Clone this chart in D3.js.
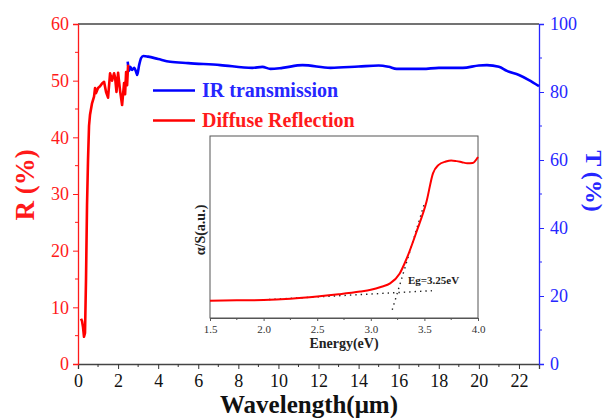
<!DOCTYPE html>
<html>
<head>
<meta charset="utf-8">
<script src="https://cdnjs.cloudflare.com/ajax/libs/d3/7.8.5/d3.min.js"></script>
<style>
  body { margin: 0; background: #fff; }
  svg { font-family: "Liberation Serif", "Times New Roman", serif; }
</style>
</head>
<body>
<svg width="610" height="418"></svg>
<script>
// main chart data
var reflWave = [0.15, 0.2, 0.25, 0.3, 0.35, 0.4, 0.45, 0.5, 0.55, 0.6, 0.7, 0.8, 0.85, 0.9, 1.0, 1.1, 1.2, 1.3, 1.4, 1.5, 1.6, 1.7, 1.8, 1.85, 1.92, 2.0, 2.1, 2.2, 2.3, 2.35, 2.4, 2.45, 2.5];
var reflVal  = [8.0, 7.6, 6.5, 4.8, 5.5, 15, 28, 36, 42, 44, 46, 47.2, 48.7, 47.8, 48.7, 49.0, 49.5, 49.8, 48.0, 47.0, 51.3, 50.0, 51.3, 50.6, 48.0, 51.4, 48.2, 45.7, 49.6, 47.6, 51.5, 49.2, 52.8];

var transWave = [2.48, 2.55, 2.6, 2.7, 2.8, 2.9, 2.95, 3.05, 3.15, 3.26, 3.5, 4.0, 4.6, 5.5, 7.1, 8.7, 9.2, 9.6, 10.2, 11.2, 12.6, 14.0, 15.0, 15.5, 15.9, 17.2, 18.0, 19.2, 20.0, 20.4, 21.0, 21.4, 22.0, 22.5, 23.0];
var transVal  = [88.9, 86.2, 87.4, 86.5, 87.1, 85.9, 85.0, 87.9, 90.0, 90.6, 90.4, 89.7, 88.9, 88.5, 87.9, 87.1, 87.4, 86.8, 87.1, 87.9, 87.1, 87.5, 87.8, 87.4, 86.8, 86.8, 87.1, 87.1, 87.8, 87.9, 87.4, 86.2, 85.0, 83.5, 81.7];

var xTicks = [0, 2, 4, 6, 8, 10, 12, 14, 16, 18, 20, 22];
var rTicks = [0, 10, 20, 30, 40, 50, 60];
var tTicks = [0, 20, 40, 60, 80, 100];

// inset data (Kubelka-Munk)
var energy = [1.5, 1.75, 2.0, 2.25, 2.5, 2.7, 2.9, 3.0, 3.1, 3.18, 3.27, 3.33, 3.43, 3.52, 3.58, 3.63, 3.7, 3.75, 3.8, 3.85, 3.9, 3.95, 4.0];
var kmVal  = [0.095, 0.097, 0.099, 0.106, 0.118, 0.13, 0.145, 0.155, 0.172, 0.19, 0.245, 0.32, 0.48, 0.64, 0.795, 0.84, 0.86, 0.866, 0.862, 0.856, 0.85, 0.852, 0.885];
var baseLine = [[2.0, 0.1], [3.57, 0.15]];
var tangentLine = [[3.2, 0.045], [3.5, 0.63]];
var eTicks = [1.5, 2.0, 2.5, 3.0, 3.5, 4.0];

var svg = d3.select("svg");
var mL = 78, mR = 539, mT = 24, mB = 364;
var red = "#ff1a1a", blue = "#2626ff";

var x = d3.scaleLinear().domain([0, 23]).range([mL, mR]);
var yR = d3.scaleLinear().domain([0, 60]).range([mB, mT]);
var yT = d3.scaleLinear().domain([0, 100]).range([mB, mT]);

// top frame line
svg.append("line")
   .attr("x1", mL).attr("x2", mR)
   .attr("y1", mT).attr("y2", mT)
   .attr("stroke", "#444").attr("stroke-width", 1.3);

// bottom axis
var xAxis = svg.append("g")
   .attr("transform", "translate(0," + mB + ")")
   .call(d3.axisBottom(x).tickValues(xTicks).tickSize(5).tickPadding(5).tickFormat(d3.format("d")));
xAxis.selectAll(".minor").data(d3.range(1, 23, 2)).enter().append("line")
   .attr("x1", function(d) { return x(d); }).attr("x2", function(d) { return x(d); })
   .attr("y1", 0).attr("y2", 3).attr("stroke", "#333");
xAxis.select(".domain").attr("stroke", "#444").attr("stroke-width", 1.3);
xAxis.selectAll(".tick line").attr("stroke", "#333");
xAxis.selectAll("text").attr("font-size", 18).attr("fill", "#111").attr("font-family", "Liberation Serif");

// left axis
var rAxis = svg.append("g")
   .attr("transform", "translate(" + mL + ",0)")
   .call(d3.axisLeft(yR).tickValues(rTicks).tickSize(5).tickPadding(4));
rAxis.selectAll(".minor").data(d3.range(5, 60, 10)).enter().append("line")
   .attr("x1", 0).attr("x2", -3)
   .attr("y1", function(d) { return yR(d); }).attr("y2", function(d) { return yR(d); })
   .attr("stroke", red);
rAxis.select(".domain").attr("stroke", red).attr("stroke-width", 1.3);
rAxis.selectAll(".tick line").attr("stroke", red);
rAxis.selectAll("text").attr("font-size", 18).attr("fill", red).attr("font-family", "Liberation Serif");

// right axis
var tAxis = svg.append("g")
   .attr("transform", "translate(" + mR + ",0)")
   .call(d3.axisRight(yT).tickValues(tTicks).tickSize(5).tickPadding(6));
tAxis.selectAll(".minor").data(d3.range(10, 100, 20)).enter().append("line")
   .attr("x1", 0).attr("x2", 3)
   .attr("y1", function(d) { return yT(d); }).attr("y2", function(d) { return yT(d); })
   .attr("stroke", blue);
tAxis.select(".domain").attr("stroke", blue).attr("stroke-width", 1.3);
tAxis.selectAll(".tick line").attr("stroke", blue);
tAxis.selectAll("text").attr("font-size", 18).attr("fill", blue).attr("font-family", "Liberation Serif");

// axis titles
svg.append("text")
   .attr("transform", "translate(34,185) rotate(-90)")
   .attr("text-anchor", "middle")
   .attr("font-size", 27).attr("font-weight", "bold").attr("fill", red)
   .text("R (%)");
svg.append("text")
   .attr("transform", "translate(586,181) rotate(90)")
   .attr("text-anchor", "middle")
   .attr("font-size", 24).attr("font-weight", "bold").attr("fill", blue)
   .text("T (%)");
svg.append("text")
   .attr("x", 309).attr("y", 413)
   .attr("text-anchor", "middle")
   .attr("font-size", 25).attr("font-weight", "bold").attr("fill", "#111")
   .text("Wavelength(μm)");

// curves
var reflLine = d3.line()
   .x(function(d, i) { return x(reflWave[i]); })
   .y(function(d) { return yR(d); });
var transLine = d3.line()
   .x(function(d, i) { return x(transWave[i]); })
   .y(function(d) { return yT(d); })
   .curve(d3.curveMonotoneX);

svg.append("path").datum(transVal)
   .attr("d", transLine)
   .attr("fill", "none").attr("stroke", "#0000ff").attr("stroke-width", 2.6);
svg.append("path").datum(reflVal)
   .attr("d", reflLine)
   .attr("fill", "none").attr("stroke", "#ff0000").attr("stroke-width", 2.6)
   .attr("stroke-linejoin", "round");

// legend
var legend = [
  { name: "IR transmission", color: "#0000ff", text: blue, y: 90.5 },
  { name: "Diffuse Reflection", color: "#ff0000", text: red, y: 120.5 }
];
var lg = svg.selectAll(".legend").data(legend).enter().append("g");
lg.append("line")
  .attr("x1", 153).attr("x2", 195)
  .attr("y1", function(d) { return d.y; }).attr("y2", function(d) { return d.y; })
  .attr("stroke", function(d) { return d.color; }).attr("stroke-width", 2.6);
lg.append("text")
  .attr("x", 202).attr("y", function(d) { return d.y + 6.5; })
  .attr("font-size", 20).attr("font-weight", "bold")
  .attr("fill", function(d) { return d.text; })
  .text(function(d) { return d.name; });

// inset
var iL = 210, iR = 478, iT = 136, iB = 318;
var ex = d3.scaleLinear().domain([1.5, 4.0]).range([iL, iR]);
var ey = d3.scaleLinear().domain([0, 1]).range([iB, iT]);

svg.append("rect")
   .attr("x", iL).attr("y", iT).attr("width", iR - iL).attr("height", iB - iT)
   .attr("fill", "#fff").attr("stroke", "#555").attr("stroke-width", 1);

var eAxis = svg.append("g")
   .attr("transform", "translate(0," + iB + ")")
   .call(d3.axisBottom(ex).tickValues(eTicks).tickSize(3).tickPadding(4).tickFormat(d3.format(".1f")));
eAxis.selectAll(".minor").data(d3.range(1.75, 4, 0.5)).enter().append("line")
   .attr("x1", function(d) { return ex(d); }).attr("x2", function(d) { return ex(d); })
   .attr("y1", 0).attr("y2", 2).attr("stroke", "#555");
eAxis.select(".domain").attr("stroke", "#555");
eAxis.selectAll(".tick line").attr("stroke", "#555");
eAxis.selectAll("text").attr("font-size", 11).attr("fill", "#333").attr("font-family", "Liberation Serif");

svg.append("text")
   .attr("x", (iL + iR) / 2).attr("y", 348)
   .attr("text-anchor", "middle")
   .attr("font-size", 14).attr("font-weight", "bold").attr("fill", "#222")
   .text("Energy(eV)");
svg.append("text")
   .attr("transform", "translate(205,230) rotate(-90)")
   .attr("text-anchor", "middle")
   .attr("font-size", 14).attr("font-weight", "bold").attr("fill", "#222")
   .text("α/S(a.u.)");

var dotted = d3.line()
   .x(function(d) { return ex(d[0]); })
   .y(function(d) { return ey(d[1]); });
[baseLine, tangentLine].forEach(function(l) {
  svg.append("path").datum(l)
     .attr("d", dotted)
     .attr("fill", "none").attr("stroke", "#222").attr("stroke-width", 1.4)
     .attr("stroke-dasharray", "1.4,4");
});

var kmLine = d3.line()
   .x(function(d, i) { return ex(energy[i]); })
   .y(function(d) { return ey(d); })
   .curve(d3.curveMonotoneX);
svg.append("path").datum(kmVal)
   .attr("d", kmLine)
   .attr("fill", "none").attr("stroke", "#ff0000").attr("stroke-width", 2);

svg.append("text")
   .attr("x", 408).attr("y", 284)
   .attr("font-size", 11).attr("font-weight", "bold").attr("fill", "#222")
   .text("Eg=3.25eV");
</script>
</body>
</html>
